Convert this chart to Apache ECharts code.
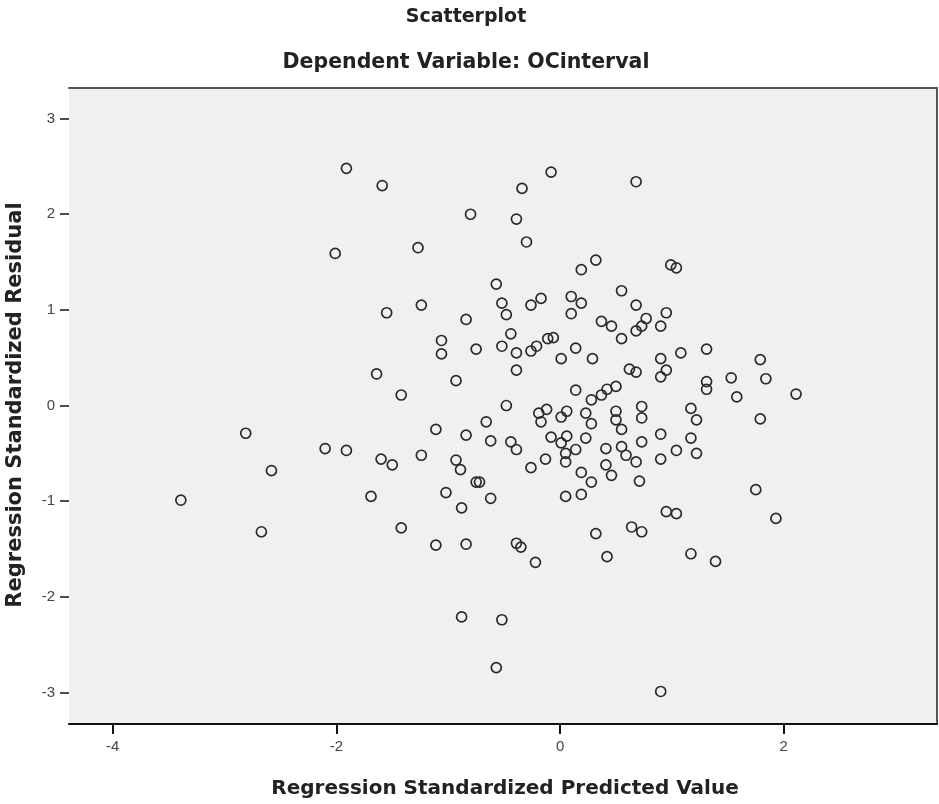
<!DOCTYPE html>
<html>
<head>
<meta charset="utf-8">
<script src="https://cdn.jsdelivr.net/npm/echarts@6/dist/echarts.min.js"></script>
<style>
html,body{margin:0;padding:0;background:#fff;}
#chart{width:939px;height:804px;}
</style>
</head>
<body>
<div id="chart"></div>
<script>
// Regression Standardized Predicted Value (x) and Regression Standardized Residual (y)
const predicted = [
  -1.91,-1.59,-0.80,-2.01,-1.27,-1.55,-1.24,-0.84,-1.06,-1.06,-0.75,-1.64,
  -0.08,0.68,-0.34,-0.39,-0.30,0.32,0.19,0.99,1.04,-0.57,0.55,-0.52,-0.48,-0.26,-0.17,0.10,0.19,0.10,0.68,0.37,0.46,0.77,0.95,0.68,0.73,0.90,0.55,
  -0.44,-0.52,-0.39,-0.26,-0.21,-0.11,-0.06,0.01,0.14,0.29,0.90,1.08,1.31,1.79,
  0.68,0.62,0.95,0.90,-0.39,
  1.31,1.31,1.53,1.84,2.11,1.58,1.79,
  0.14,-0.48,-0.66,-0.62,-0.44,-0.39,-0.19,-0.12,-0.17,0.01,0.06,0.23,0.28,0.28,0.37,0.42,0.50,0.50,0.50,0.55,0.73,0.73,0.90,1.17,1.22,1.17,1.22,1.04,0.90,0.73,0.68,0.59,0.55,0.41,0.41,0.46,0.71,
  0.23,0.14,0.06,0.01,-0.08,0.05,0.05,-0.13,-0.26,0.19,0.28,0.19,0.05,-0.62,-0.72,
  1.75,1.93,0.95,1.04,0.64,0.73,0.32,0.42,1.17,1.39,-0.39,-0.35,-0.22,
  -0.93,-1.42,-1.11,-0.84,-2.81,-2.10,-1.91,-1.60,-1.50,-1.24,-0.93,-0.89,-0.75,-1.02,-0.88,
  -2.58,-3.39,-2.67,-1.69,-1.42,-1.11,-0.84,
  -0.88,-0.52,-0.57,0.90
];
const residual = [
  2.48,2.30,2.00,1.59,1.65,0.97,1.05,0.90,0.68,0.54,0.59,0.33,
  2.44,2.34,2.27,1.95,1.71,1.52,1.42,1.47,1.44,1.27,1.20,1.07,0.95,1.05,1.12,1.14,1.07,0.96,1.05,0.88,0.83,0.91,0.97,0.78,0.83,0.83,0.70,
  0.75,0.62,0.55,0.57,0.62,0.70,0.71,0.49,0.60,0.49,0.49,0.55,0.59,0.48,
  0.35,0.38,0.37,0.30,0.37,
  0.25,0.17,0.29,0.28,0.12,0.09,-0.14,
  0.16,0.00,-0.17,-0.37,-0.38,-0.46,-0.08,-0.04,-0.17,-0.12,-0.06,-0.08,-0.19,0.06,0.11,0.17,0.20,-0.06,-0.15,-0.25,-0.01,-0.13,-0.30,-0.03,-0.15,-0.34,-0.50,-0.47,-0.56,-0.38,-0.59,-0.52,-0.43,-0.45,-0.62,-0.73,-0.79,
  -0.34,-0.46,-0.32,-0.39,-0.33,-0.50,-0.59,-0.56,-0.65,-0.70,-0.80,-0.93,-0.95,-0.97,-0.80,
  -0.88,-1.18,-1.11,-1.13,-1.27,-1.32,-1.34,-1.58,-1.55,-1.63,-1.44,-1.48,-1.64,
  0.26,0.11,-0.25,-0.31,-0.29,-0.45,-0.47,-0.56,-0.62,-0.52,-0.57,-0.67,-0.80,-0.91,-1.07,
  -0.68,-0.99,-1.32,-0.95,-1.28,-1.46,-1.45,
  -2.21,-2.24,-2.74,-2.99
];
const xTicks = [-4, -2, 0, 2];
const yTicks = [-3, -2, -1, 0, 1, 2, 3];
const titleText = 'Scatterplot';
const subtitleText = 'Dependent Variable: OCinterval';
const xTitle = 'Regression Standardized Predicted Value';
const yTitle = 'Regression Standardized Residual';

const points = predicted.map((v, i) => [v, residual[i]]);

const chart = echarts.init(document.getElementById('chart'), null, {renderer: 'canvas'});
const titleFont = '"DejaVu Sans", sans-serif';
const labelFont = '"Liberation Sans", Arial, sans-serif';

chart.setOption({
  animation: false,
  backgroundColor: '#ffffff',
  grid: {
    left: 69, right: 2, top: 88, bottom: 80,
    show: true, backgroundColor: '#f0f0f0', borderWidth: 0
  },
  xAxis: [{
    type: 'value', min: -4.39, max: 3.37,
    axisLine: {show: true, onZero: false, lineStyle: {color: '#111', width: 2}},
    axisTick: {show: true, length: 10, customValues: xTicks, lineStyle: {color: '#111', width: 2}},
    axisLabel: {show: true, margin: 15, customValues: xTicks, fontSize: 15, color: '#444', fontFamily: labelFont},
    splitLine: {show: false}
  }, {
    type: 'value', min: -4.39, max: 3.37, position: 'top',
    axisLine: {show: true, onZero: false, lineStyle: {color: '#555', width: 2}},
    axisTick: {show: false}, axisLabel: {show: false}, splitLine: {show: false}
  }],
  yAxis: [{
    type: 'value', min: -3.33, max: 3.32,
    axisLine: {show: false, onZero: false},
    axisTick: {show: true, length: 9, customValues: yTicks, lineStyle: {color: '#111', width: 1.5}},
    axisLabel: {show: true, margin: 14, customValues: yTicks, fontSize: 15, color: '#444', fontFamily: labelFont},
    splitLine: {show: false}
  }, {
    type: 'value', min: -3.33, max: 3.32, position: 'right',
    axisLine: {show: true, onZero: false, lineStyle: {color: '#555', width: 2}},
    axisTick: {show: false}, axisLabel: {show: false}, splitLine: {show: false}
  }],
  series: [{
    type: 'scatter',
    xAxisIndex: 0, yAxisIndex: 0,
    data: points,
    symbol: 'circle',
    symbolSize: 10,
    itemStyle: {color: 'rgba(0,0,0,0)', borderColor: '#2a2a2a', borderWidth: 1.7, opacity: 1},
    emphasis: {disabled: true}
  }],
  graphic: [
    {type: 'text', x: 466, y: 17, style: {text: titleText, font: 'bold 19px ' + titleFont, fill: '#222', align: 'center', verticalAlign: 'middle'}},
    {type: 'text', x: 466, y: 63, style: {text: subtitleText, font: 'bold 20.5px ' + titleFont, fill: '#222', align: 'center', verticalAlign: 'middle'}},
    {type: 'text', x: 505, y: 789, style: {text: xTitle, font: 'bold 20px ' + titleFont, fill: '#222', align: 'center', verticalAlign: 'middle'}},
    {type: 'text', x: 16, y: 405, rotation: Math.PI / 2, style: {text: yTitle, font: 'bold 21px ' + titleFont, fill: '#222', align: 'center', verticalAlign: 'middle'}}
  ]
});
</script>
</body>
</html>
